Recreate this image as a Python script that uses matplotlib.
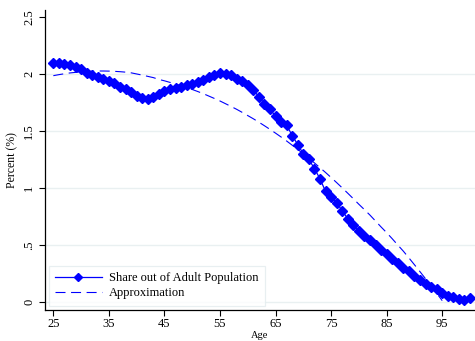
import matplotlib
matplotlib.use("Agg")
import matplotlib.pyplot as plt
import numpy as np

plt.rcParams['font.family'] = ['Liberation Serif', 'DejaVu Serif']

# Data
ages = list(range(25, 101))
share = [2.10, 2.10, 2.09, 2.08, 2.06, 2.04, 2.01, 1.99, 1.97, 1.96,
         1.94, 1.92, 1.89, 1.87, 1.84, 1.81, 1.79, 1.78, 1.80, 1.82,
         1.85, 1.865, 1.875, 1.89, 1.90, 1.915, 1.93, 1.95, 1.97, 1.99,
         2.005, 2.00, 1.99, 1.96, 1.94, 1.90, 1.86, 1.80, 1.74, 1.69,
         1.63, 1.58, 1.55, 1.46, 1.38, 1.30, 1.25, 1.17, 1.08, 0.97,
         0.92, 0.87, 0.80, 0.73, 0.675, 0.62, 0.58, 0.54, 0.50, 0.456,
         0.42, 0.38, 0.34, 0.30, 0.27, 0.23, 0.19, 0.16, 0.13, 0.11,
         0.08, 0.055, 0.04, 0.025, 0.02, 0.035]

approx_ages = list(range(25, 96))
approx = [1.985, 1.994, 2.002, 2.009, 2.014, 2.019, 2.022, 2.024, 2.026, 2.026,
          2.025, 2.023, 2.020, 2.016, 2.010, 2.000, 1.990, 1.979, 1.968, 1.952,
          1.940, 1.926, 1.911, 1.896, 1.881, 1.864, 1.846, 1.827, 1.806, 1.785,
          1.763, 1.739, 1.715, 1.690, 1.663, 1.635, 1.607, 1.577, 1.546, 1.514,
          1.481, 1.447, 1.412, 1.375, 1.338, 1.300, 1.260, 1.220, 1.178, 1.136,
          1.092, 1.047, 1.001, 0.954, 0.906, 0.857, 0.810, 0.762, 0.710, 0.658,
          0.608, 0.555, 0.500, 0.446, 0.387, 0.327, 0.266, 0.204, 0.141, 0.077,
          0.012]

yticks = [0, 0.5, 1, 1.5, 2, 2.5]
yticklabels = ["0", ".5", "1", "1.5", "2", "2.5"]
xticks = [25, 35, 45, 55, 65, 75, 85, 95]

fig = plt.figure(figsize=(4.75, 3.41), dpi=100)
ax = fig.add_axes([45/475, 31/341, 430/475, 300/341])

for g in [0, 0.5, 1, 1.5, 2]:
    ax.axhline(g, color='#E9F0F1', lw=1.0, zorder=0)

blue = '#0000FF'
ax.plot(ages, share, color=blue, lw=0.9, marker='D', ms=5.0, mec=blue, mfc=blue,
        label='Share out of Adult Population', zorder=3)
ax.plot(approx_ages, approx, color=blue, lw=0.8, dashes=(9, 5),
        label='Approximation', zorder=2)

ax.set_xlim(23.5, 100.9)
ax.set_ylim(-0.07, 2.561)
ax.set_xticks(xticks)
ax.set_yticks(yticks)
ax.set_yticklabels(yticklabels, rotation=90, va='center')
ax.tick_params(axis='both', labelsize=9, length=4, width=0.8, color='black')
ax.tick_params(axis='y', pad=3)
ax.tick_params(axis='x', pad=2)
for s in ['top', 'right']:
    ax.spines[s].set_visible(False)
for s in ['left', 'bottom']:
    ax.spines[s].set_linewidth(0.9)

ax.set_ylabel('Percent (%)', fontsize=8.5, va='center')
ax.yaxis.set_label_coords((12 - 45) / 430, 0.5)
ax.set_xlabel('Age', fontsize=7.5, va='center')
ax.xaxis.set_label_coords(0.5, (341 - 335 - 31) / 300)

leg = ax.legend(loc='lower left', bbox_to_anchor=(49/475, (341-305.7)/341),
                bbox_transform=fig.transFigure, borderaxespad=0,
                fontsize=9, handlelength=3.7, handletextpad=0.6,
                numpoints=1, frameon=True, fancybox=False,
                borderpad=0.5, labelspacing=0.25, markerscale=0.9)
leg.get_frame().set_edgecolor('#E3ECEE')
leg.get_frame().set_linewidth(0.9)

fig.savefig('out.png', dpi=100)
